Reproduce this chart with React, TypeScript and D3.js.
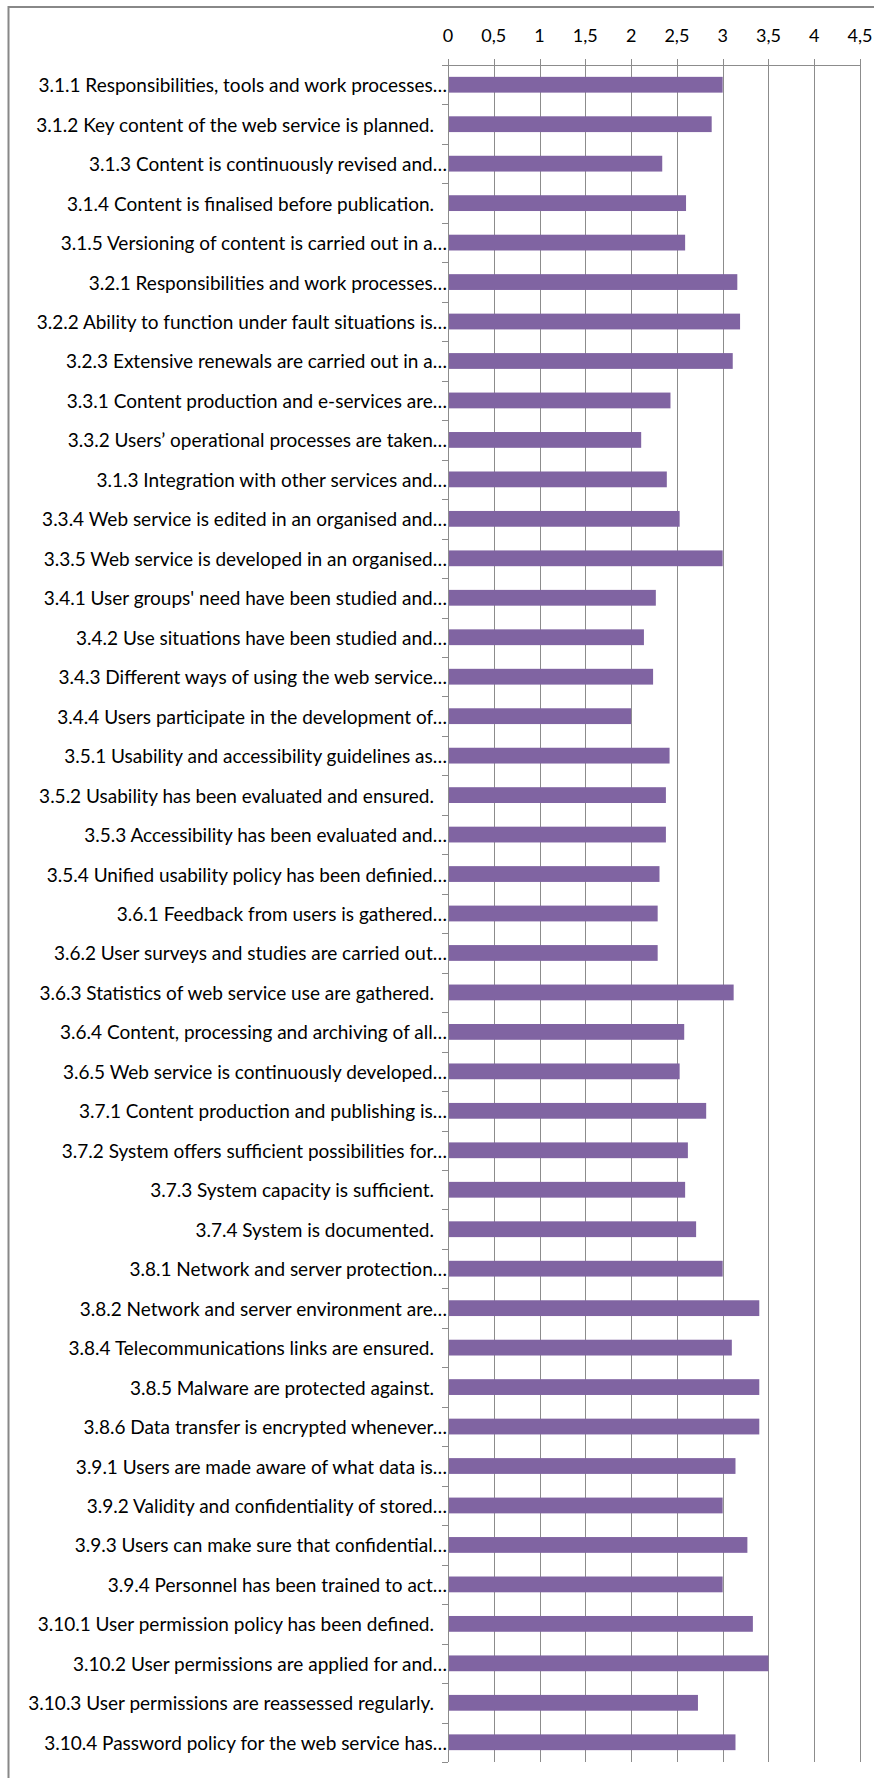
import React from "react";
import * as d3 from "d3";

const categories: string[] = [
  "3.1.1 Responsibilities, tools and work processes…",
  "3.1.2 Key content of the web service is planned.",
  "3.1.3 Content is continuously revised and…",
  "3.1.4 Content is finalised before publication.",
  "3.1.5 Versioning of content is carried out in a…",
  "3.2.1 Responsibilities and work processes…",
  "3.2.2 Ability to function under fault situations is…",
  "3.2.3 Extensive renewals are carried out in a…",
  "3.3.1 Content production and e-services are…",
  "3.3.2 Users’ operational processes are taken…",
  "3.1.3 Integration with other services and…",
  "3.3.4 Web service is edited in an organised and…",
  "3.3.5 Web service is developed in an organised…",
  "3.4.1 User groups' need have been studied and…",
  "3.4.2 Use situations have been studied and…",
  "3.4.3 Different ways of using the web service…",
  "3.4.4 Users participate in the development of…",
  "3.5.1 Usability and accessibility guidelines as…",
  "3.5.2 Usability has been evaluated and ensured.",
  "3.5.3 Accessibility has been evaluated and…",
  "3.5.4 Unified usability policy has been definied…",
  "3.6.1 Feedback from users is gathered…",
  "3.6.2 User surveys and studies are carried out…",
  "3.6.3 Statistics of web service use are gathered.",
  "3.6.4 Content, processing and archiving of all…",
  "3.6.5 Web service is continuously developed…",
  "3.7.1 Content production and publishing is…",
  "3.7.2 System offers sufficient possibilities for…",
  "3.7.3 System capacity is sufficient.",
  "3.7.4 System is documented.",
  "3.8.1 Network and server protection…",
  "3.8.2 Network and server environment are…",
  "3.8.4 Telecommunications links are ensured.",
  "3.8.5 Malware are protected against.",
  "3.8.6 Data transfer is encrypted whenever…",
  "3.9.1 Users are made aware of what data is…",
  "3.9.2 Validity and confidentiality of stored…",
  "3.9.3 Users can make sure that confidential…",
  "3.9.4 Personnel has been trained to act…",
  "3.10.1 User permission policy has been defined.",
  "3.10.2 User permissions are applied for and…",
  "3.10.3 User permissions are reassessed regularly.",
  "3.10.4 Password policy for the web service has…",
];

const values: number[] = [
  3.0, 2.88, 2.34, 2.6, 2.59, 3.16, 3.19, 3.11,
  2.43, 2.11, 2.39, 2.53, 3.0,
  2.27, 2.14, 2.24, 2.0,
  2.42, 2.38, 2.38, 2.31,
  2.29, 2.29, 3.12, 2.58, 2.53,
  2.82, 2.62, 2.59, 2.71,
  3.0, 3.4, 3.1, 3.4, 3.4,
  3.14, 3.0, 3.27, 3.0,
  3.33, 3.5, 2.73, 3.14,
];

const tickValues: number[] = [0, 0.5, 1, 1.5, 2, 2.5, 3, 3.5, 4, 4.5];
const tickLabels: string[] = ["0", "0,5", "1", "1,5", "2", "2,5", "3", "3,5", "4", "4,5"];

const W = 874;
const H = 1778;
const plotLeft = 448;
const plotRight = 860;
const plotTop = 65;
const plotBottom = 1762;
const font = "Lato, 'Open Sans', sans-serif";
const gridColor = "#8c8c8c";
const barColor = "#8064A2";

export default function App() {
  const x = d3.scaleLinear().domain([0, 4.5]).range([plotLeft, plotRight]);
  const y = d3
    .scaleBand<string>()
    .domain(categories)
    .range([plotTop, plotBottom])
    .paddingInner(0.6)
    .paddingOuter(0.3);
  const step = y.step();
  const boundaries = d3.range(categories.length + 1).map((i) => plotTop + i * step);

  return (
    <div style={{ position: "absolute", left: 0, top: 0 }}>
      <svg width={W} height={H} style={{ display: "block", background: "#fff" }}>
        <rect x={0} y={0} width={W} height={H} fill="#fff" />
        {/* outer chart border */}
        <rect x={8.5} y={7} width={W + 20} height={H + 20} fill="none" stroke="#888" strokeWidth={2} />
        {/* gridlines */}
        {tickValues.slice(1).map((t) => (
          <line
            key={"g" + t}
            x1={Math.round(x(t)) + 0.5}
            x2={Math.round(x(t)) + 0.5}
            y1={plotTop}
            y2={plotBottom}
            stroke={gridColor}
            strokeWidth={1}
          />
        ))}
        {/* bars */}
        {categories.map((c, i) => (
          <rect
            key={"b" + i}
            x={x(0)}
            y={y(c)!}
            width={x(values[i]) - x(0)}
            height={y.bandwidth()}
            fill={barColor}
          />
        ))}
        {/* top axis */}
        <line x1={plotLeft} x2={plotRight + 0.5} y1={plotTop + 0.5} y2={plotTop + 0.5} stroke={gridColor} strokeWidth={1} />
        {tickValues.map((t) => (
          <line
            key={"t" + t}
            x1={Math.round(x(t)) + 0.5}
            x2={Math.round(x(t)) + 0.5}
            y1={plotTop - 6}
            y2={plotTop + 6}
            stroke={gridColor}
            strokeWidth={1}
          />
        ))}
        {tickValues.map((t, i) => (
          <text
            key={"tl" + t}
            x={x(t)}
            y={35}
            textAnchor="middle"
            dominantBaseline="central"
            fontFamily={font}
            fontSize={18}
            fill="#000"
          >
            {tickLabels[i]}
          </text>
        ))}
        {/* left axis */}
        <line x1={plotLeft + 0.5} x2={plotLeft + 0.5} y1={plotTop} y2={plotBottom} stroke={gridColor} strokeWidth={1} />
        {boundaries.map((b, i) => (
          <line
            key={"lt" + i}
            x1={plotLeft - 6}
            x2={plotLeft}
            y1={Math.round(b) + 0.5}
            y2={Math.round(b) + 0.5}
            stroke={gridColor}
            strokeWidth={1}
          />
        ))}
        {/* category labels */}
        {categories.map((c, i) => {
          const truncated = c.endsWith("…");
          return (
            <text
              key={"l" + i}
              x={truncated ? plotLeft - 1 : plotLeft - 14}
              y={y(c)! + y.bandwidth() / 2}
              textAnchor="end"
              dominantBaseline="central"
              fontFamily={font}
              fontSize={19}
              fill="#000"
            >
              {c}
            </text>
          );
        })}
      </svg>
    </div>
  );
}
